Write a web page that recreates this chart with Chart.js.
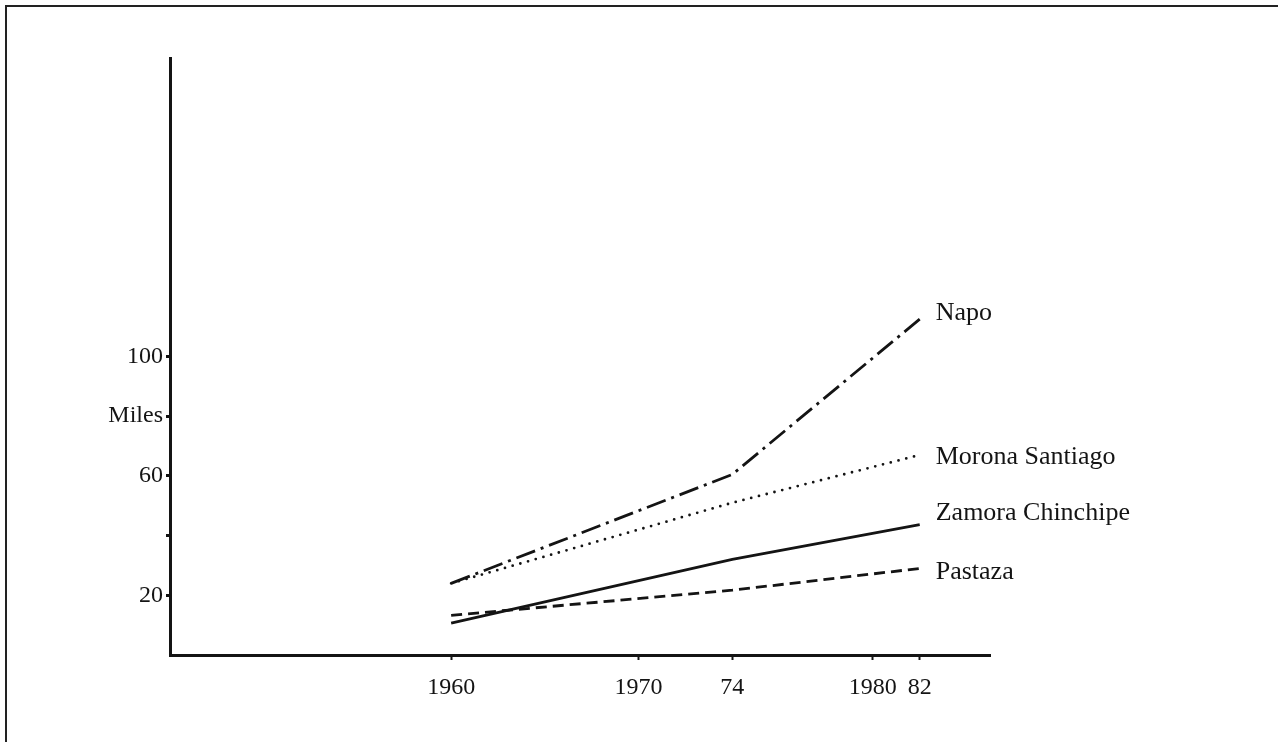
<!DOCTYPE html>
<html>
<head>
<meta charset="utf-8">
<title>Población de la Amazonía ecuatoriana</title>
<script src="https://cdn.jsdelivr.net/npm/chart.js@4.4.1/dist/chart.umd.min.js"></script>
<style>
  html, body { margin: 0; padding: 0; background: #fff; }
  #marco { position: relative; width: 1278px; height: 742px; overflow: hidden; }
  #marco::before {
    content: ''; position: absolute; left: 5px; top: 5px; right: -10px; bottom: -10px;
    border-left: 2px solid #222; border-top: 2px solid #222; pointer-events: none;
  }
  canvas { display: block; }
</style>
</head>
<body>
<div id="marco"><canvas id="grafico" width="1278" height="742"></canvas></div>
<script>
// Ranuras del eje X: el original no es lineal, cada ranura es medio paso
const ranurasX = ['', '', '', '', '', '', '', '', '', '', '', '',
    '1960', '', '', '', '', '', '', '',
    '1970', '', '', '',
    '74', '', '', '', '', '',
    '1980', '',
    '82', '', '', ''];

// Años con dato
const anios = ['1960', '74', '82'];

// Población (miles)
const napo = [24, 60.5, 112.5];
const moronaSantiago = [24, 51, 67];
const zamoraChinchipe = [10.7, 32, 43.7];
const pastaza = [13.3, 21.7, 29];

// Marcas del eje Y
const marcasY = [20, 40, 60, 80, 100];
const etiquetasY = ['20', '', '60', 'Miles', '100'];

const tinta = '#141414';
const fuente = { family: '"Liberation Serif", "Times New Roman", serif', size: 24 };

function serie(valores) {
    return anios.map((a, i) => ({ x: a, y: valores[i] }));
}

// Nombres al final de cada línea
const etiquetasFinales = {
    id: 'etiquetasFinales',
    afterDatasetsDraw(chart) {
        const ctx = chart.ctx;
        ctx.save();
        ctx.font = '26px "Liberation Serif", "Times New Roman", serif';
        ctx.fillStyle = tinta;
        ctx.textBaseline = 'middle';
        ctx.textAlign = 'left';
        chart.data.datasets.forEach((ds, i) => {
            const puntos = chart.getDatasetMeta(i).data;
            const p = puntos[puntos.length - 1];
            ctx.fillText(ds.label, p.x + 16, p.y + ds.desplazamiento);
        });
        ctx.restore();
    }
};

function inicializarGrafico() {
    const ctx = document.getElementById('grafico').getContext('2d');
    new Chart(ctx, {
        type: 'line',
        data: {
            labels: ranurasX,
            datasets: [
                {
                    label: 'Napo',
                    data: serie(napo),
                    borderColor: tinta,
                    borderWidth: 2.8,
                    borderDash: [20, 6, 3, 6],
                    desplazamiento: -6
                },
                {
                    label: 'Morona Santiago',
                    data: serie(moronaSantiago),
                    borderColor: tinta,
                    borderWidth: 2.8,
                    borderDash: [0, 8],
                    borderCapStyle: 'round',
                    desplazamiento: 2
                },
                {
                    label: 'Zamora Chinchipe',
                    data: serie(zamoraChinchipe),
                    borderColor: tinta,
                    borderWidth: 2.8,
                    desplazamiento: -11
                },
                {
                    label: 'Pastaza',
                    data: serie(pastaza),
                    borderColor: tinta,
                    borderWidth: 2.8,
                    borderDash: [11, 6],
                    desplazamiento: 4
                }
            ]
        },
        options: {
            responsive: false,
            animation: false,
            devicePixelRatio: 1,
            layout: { padding: { top: 58, right: 288, left: 0, bottom: 0 } },
            elements: {
                point: { radius: 0, hoverRadius: 0 },
                line: { tension: 0, fill: false }
            },
            plugins: {
                legend: { display: false },
                tooltip: { enabled: false }
            },
            scales: {
                x: {
                    type: 'category',
                    grid: {
                        drawOnChartArea: false,
                        drawTicks: true,
                        tickLength: 5,
                        tickWidth: 2,
                        tickColor: c => ranurasX[c.index] ? tinta : 'rgba(0,0,0,0)'
                    },
                    border: { color: tinta, width: 3 },
                    ticks: {
                        autoSkip: false,
                        maxRotation: 0,
                        padding: 13,
                        color: tinta,
                        font: fuente
                    },
                    afterFit: s => { s.height = 87; }
                },
                y: {
                    min: 0,
                    max: 200,
                    afterBuildTicks: s => { s.ticks = marcasY.map(v => ({ value: v })); },
                    grid: {
                        drawOnChartArea: false,
                        drawTicks: true,
                        tickLength: 4,
                        tickWidth: 3,
                        tickColor: tinta
                    },
                    border: { color: tinta, width: 3 },
                    ticks: {
                        padding: 3,
                        color: tinta,
                        font: fuente,
                        callback: v => etiquetasY[marcasY.indexOf(v)]
                    },
                    afterFit: s => { s.width = 170; }
                }
            }
        },
        plugins: [etiquetasFinales]
    });
}

document.addEventListener('DOMContentLoaded', inicializarGrafico);
</script>
</body>
</html>
